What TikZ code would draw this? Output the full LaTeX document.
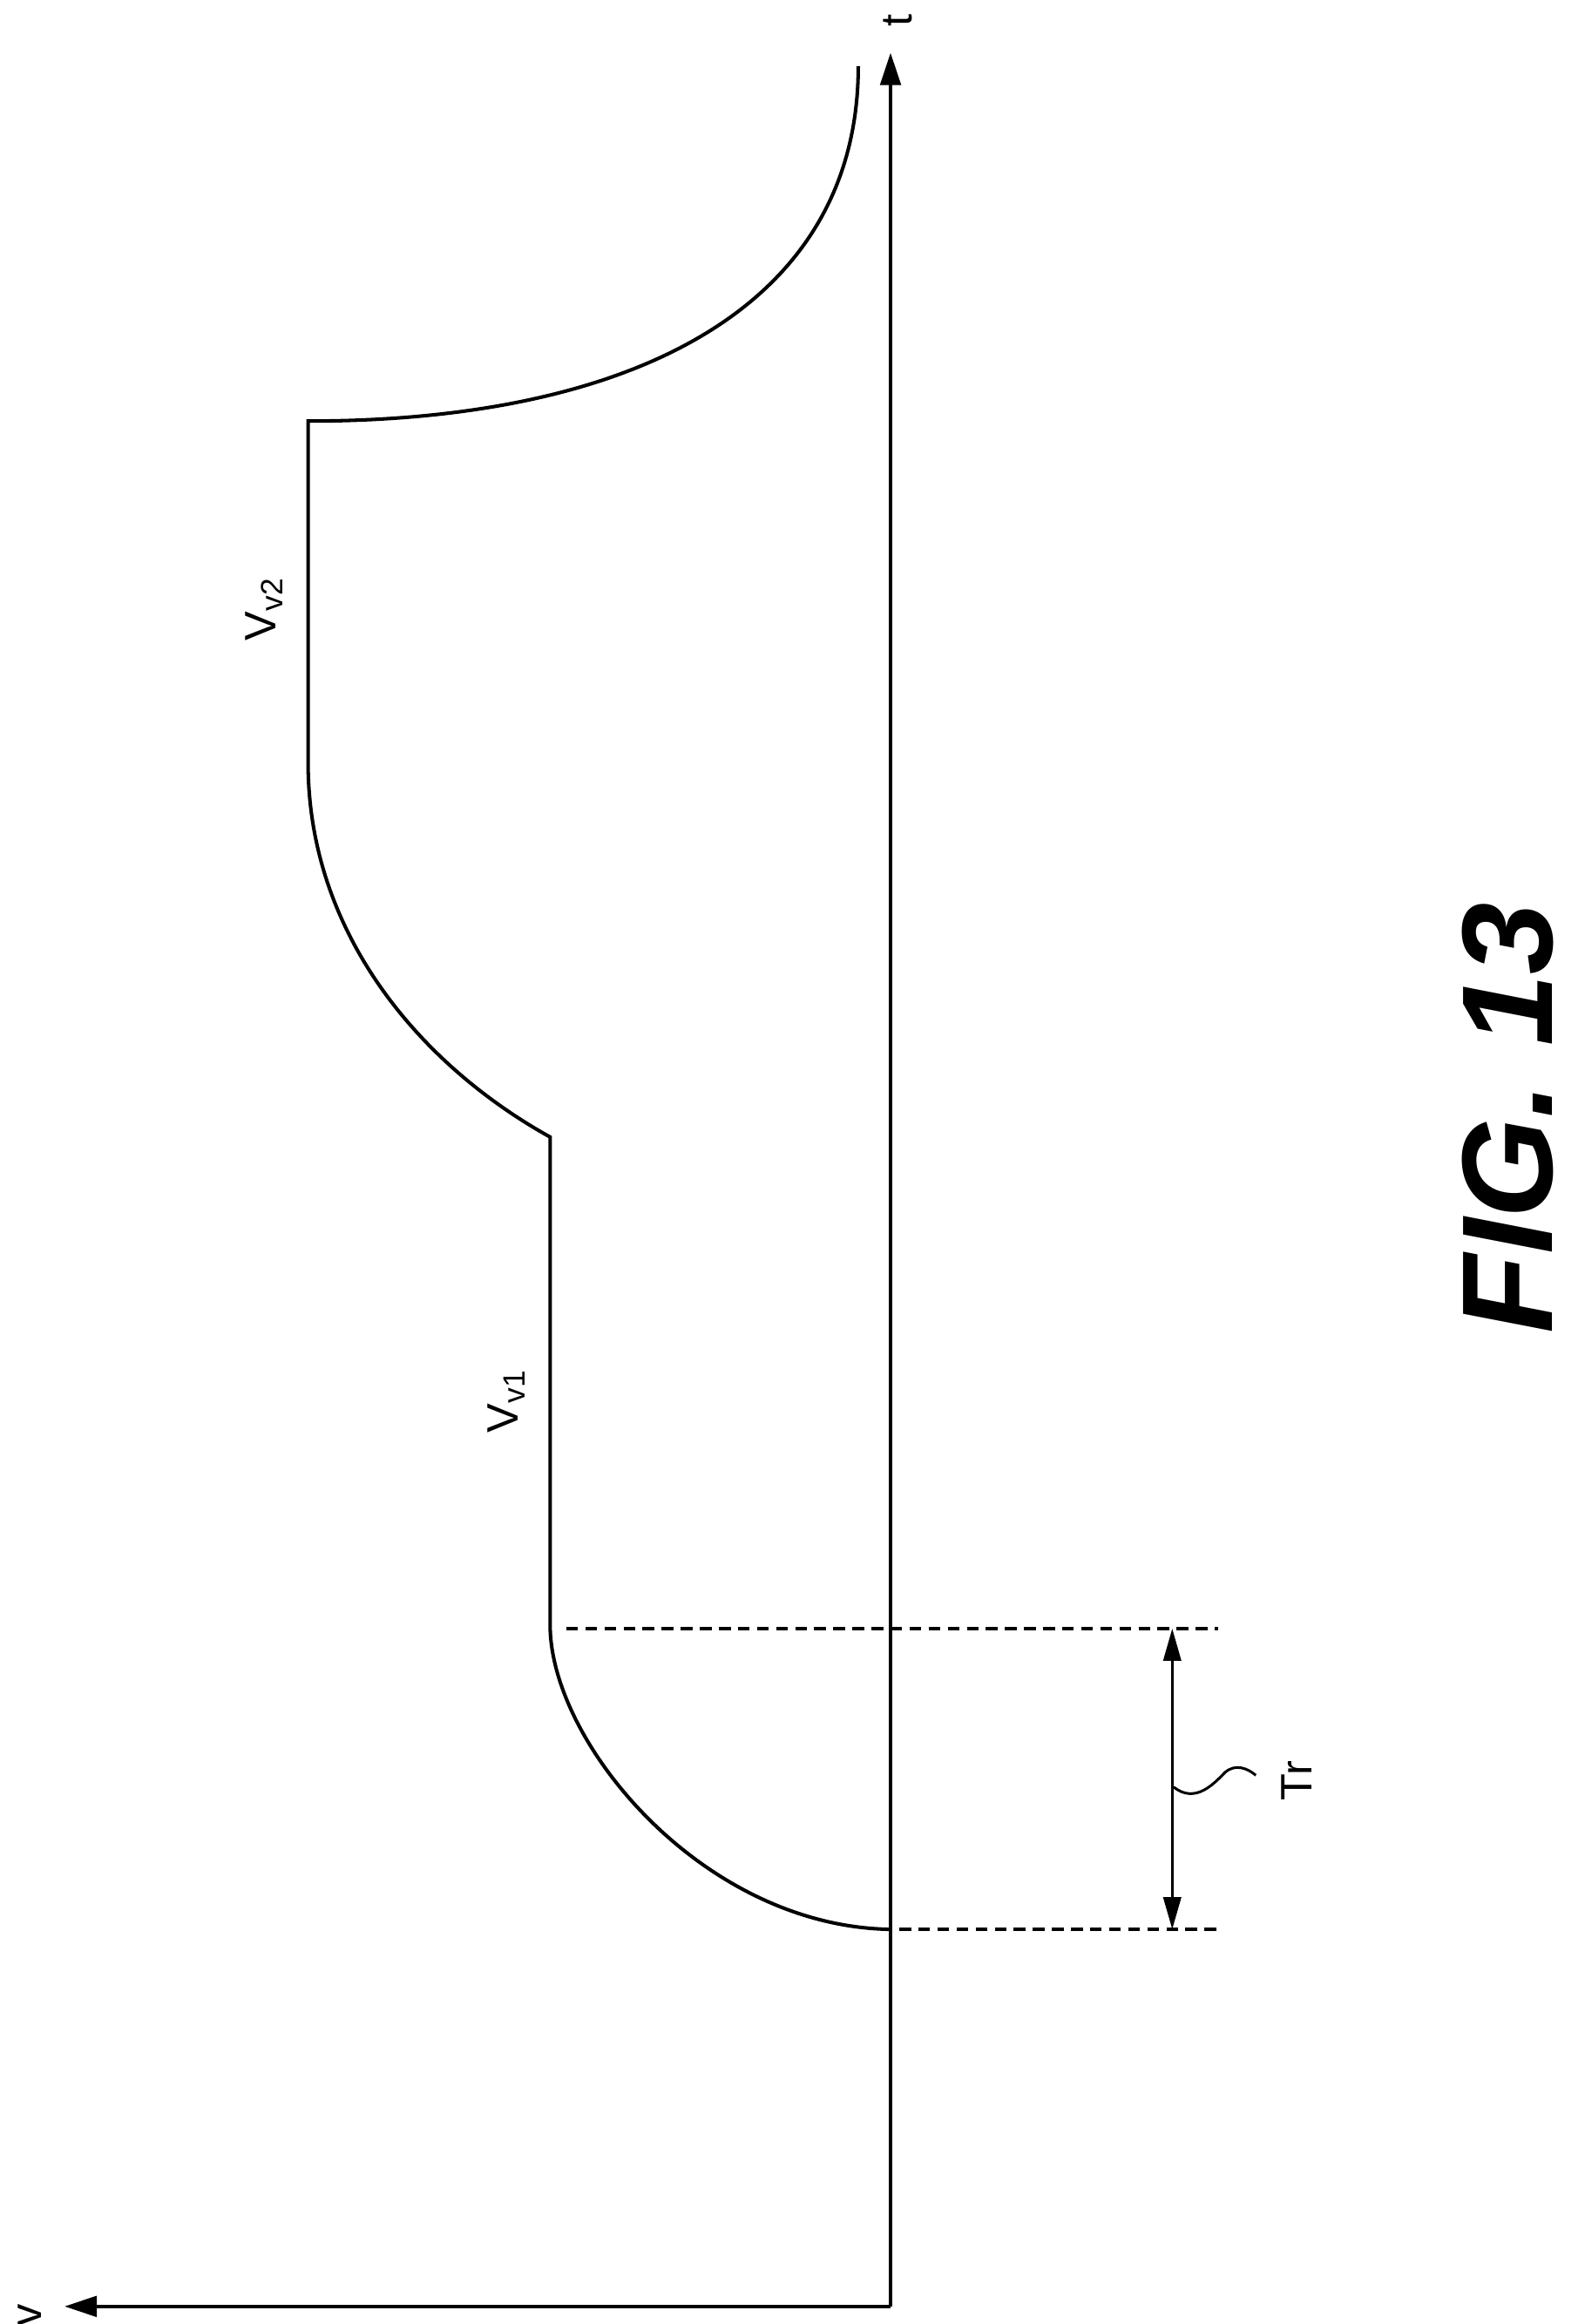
\documentclass[tikz,border=0pt]{standalone}
\usepackage{fontspec}
\setmainfont{Liberation Sans}
\usetikzlibrary{arrows.meta}
\begin{document}
\begin{tikzpicture}[x=0.5pt,y=-0.5pt,
  ax/.style={line width=1.1pt,-{Triangle[length=11pt,width=7pt]}},
  crv/.style={line width=1.2pt},
  dsh/.style={line width=1pt,dash pattern=on 4pt off 2.5pt},
  lbl/.style={rotate=90,font=\fontsize{15}{17}\selectfont,inner sep=1pt}]
\useasboundingbox (0,0) rectangle (1080,1584);
\coordinate (o) at (607,1572);
\coordinate (ttip) at (607,36);
\coordinate (vtip) at (44,1572);
\draw[ax] (o) -- (ttip);
\draw[ax] (o) -- (vtip);
\node[lbl] (t) at (612,14) {t};
\node[lbl] (v) at (20,1578) {v};
\coordinate (a0) at (607,1315);
\coordinate (a1) at (375,1110);
\coordinate (a2) at (375,775);
\coordinate (a3) at (210,520);
\coordinate (a4) at (210,287);
\coordinate (a5) at (585,45);
\draw[crv] (a0) .. controls (480,1313) and (377,1190) .. (a1) -- (a2)
  .. controls (285,725) and (210,635) .. (a3) -- (a4)
  .. controls (430,287) and (585,210) .. (a5);
\coordinate (d1a) at (386,1110); \coordinate (d1b) at (830,1110);
\coordinate (d2a) at (613,1315); \coordinate (d2b) at (830,1315);
\draw[dsh] (d1a) -- (d1b);
\draw[dsh] (d2a) -- (d2b);
\coordinate (ra) at (799,1110); \coordinate (rb) at (799,1315);
\draw[line width=1pt,{Triangle[length=11pt,width=6pt]}-{Triangle[length=11pt,width=6pt]}] (ra) -- (rb);
\coordinate (s0) at (800,1218);
\coordinate (s1) at (856,1210);
\draw[line width=0.9pt] (s0) .. controls (815,1230) and (828,1215) .. (835,1208) .. controls (842,1202) and (850,1205) .. (s1);
\node[lbl] (tr) at (884,1214) {Tr};
\node[lbl] (vv1) at (345,955) {V\textsubscript{v1}};
\node[lbl] (vv2) at (180,415) {V\textsubscript{v2}};
\node[rotate=90,font=\fontsize{44}{48}\selectfont\bfseries\itshape] (fig) at (1028,762) {FIG. 13};
\end{tikzpicture}
\end{document}
